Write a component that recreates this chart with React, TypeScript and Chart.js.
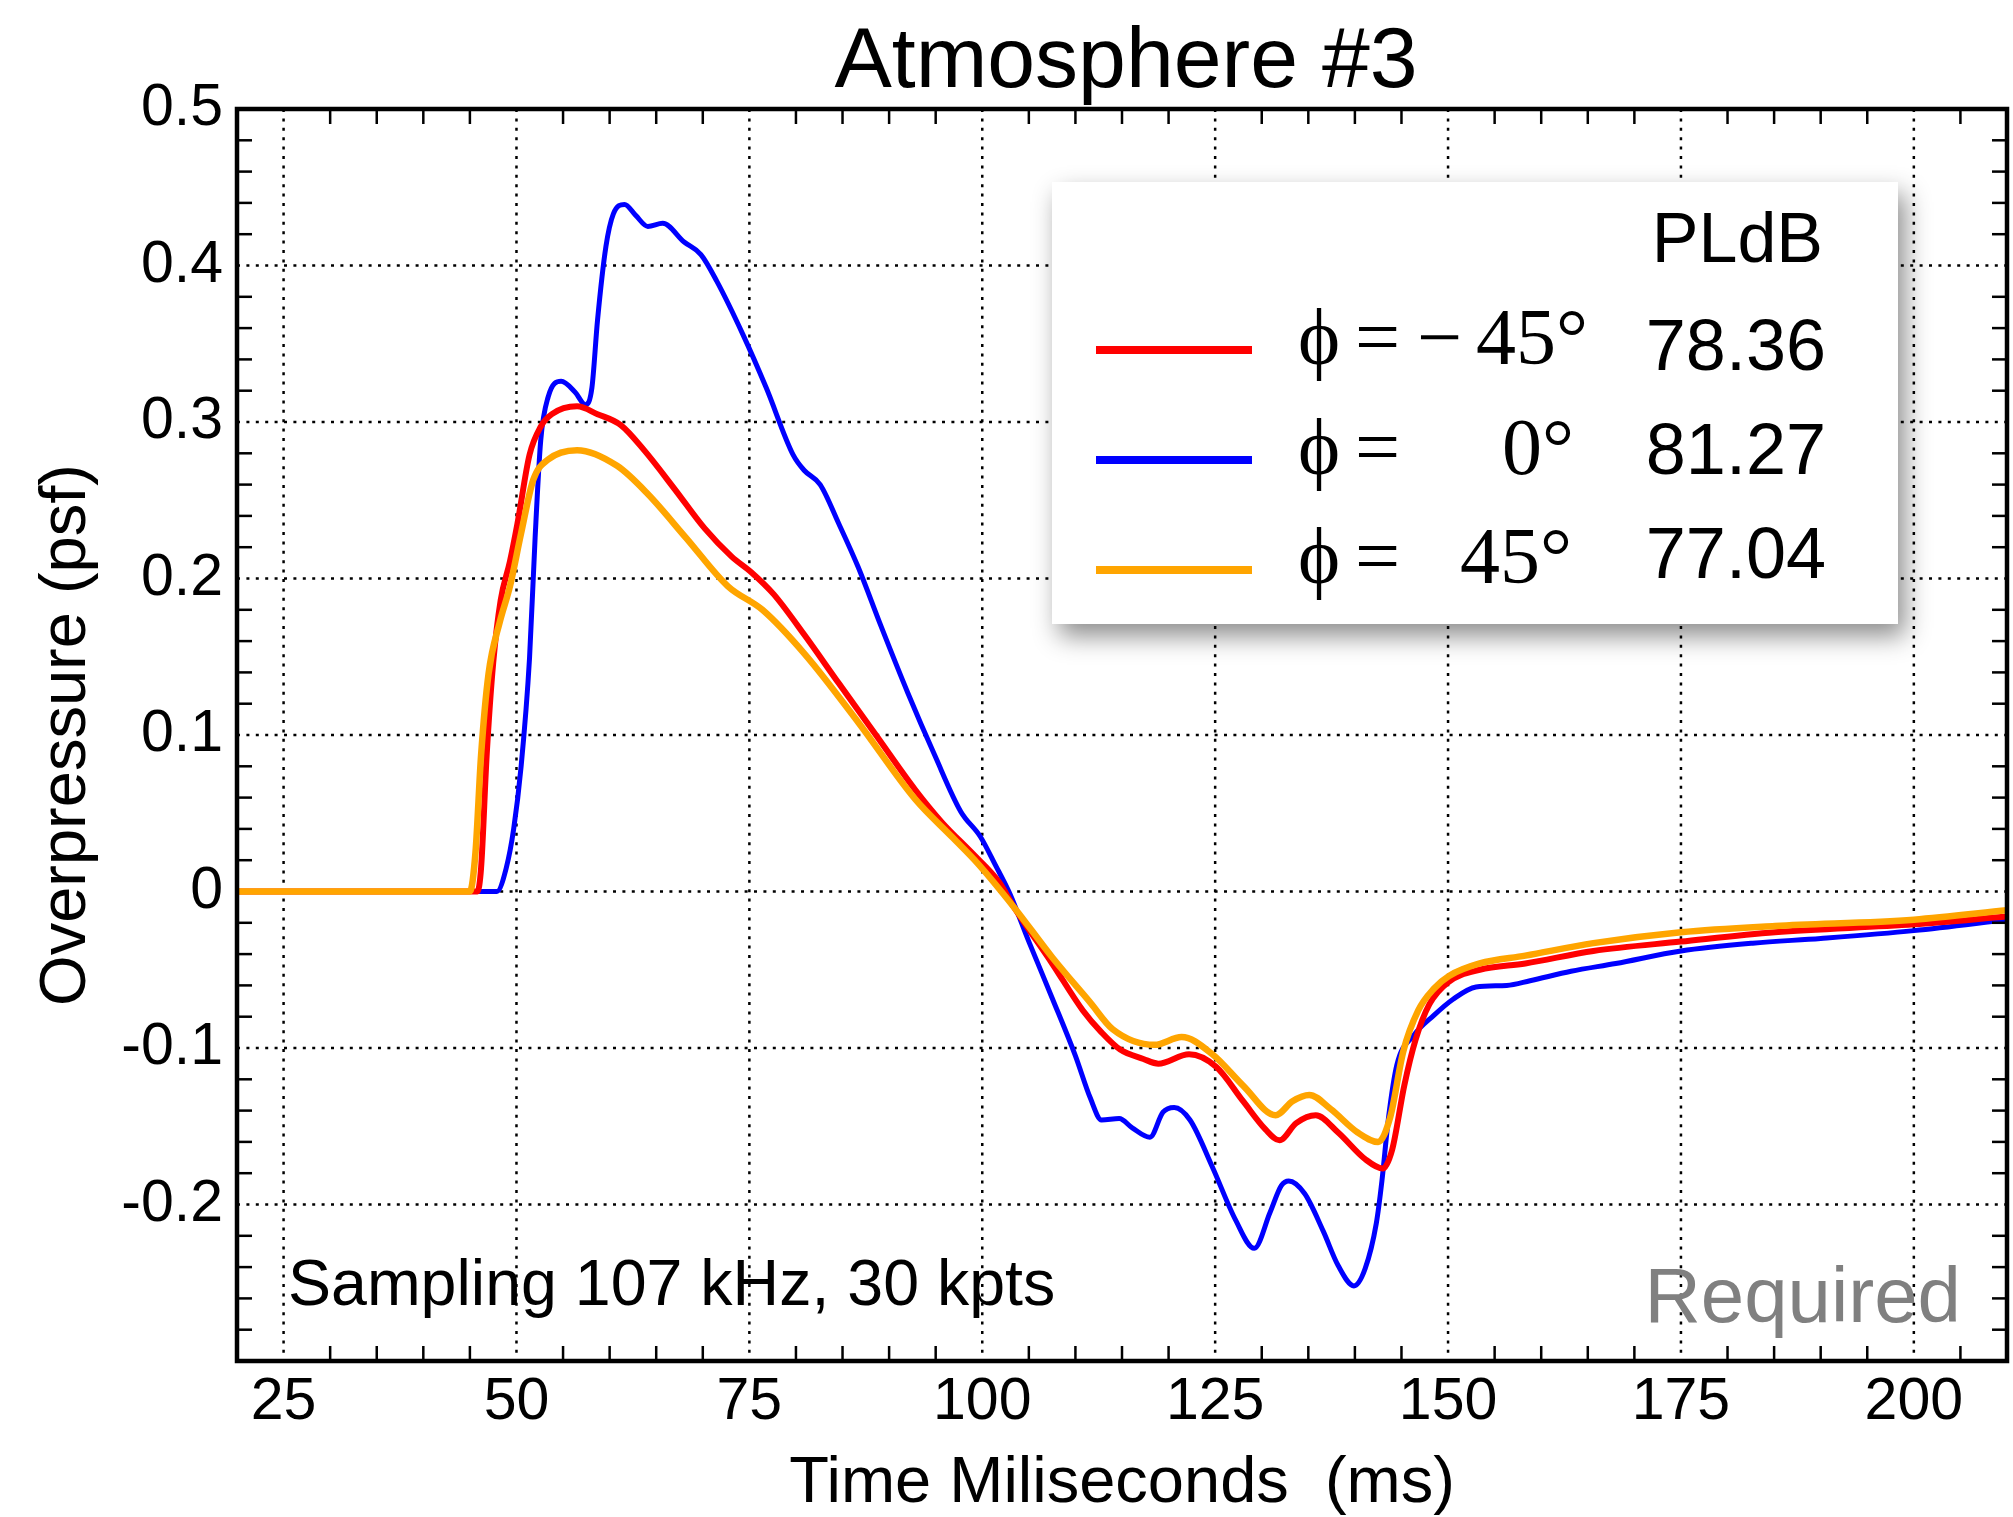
import React, { useEffect, useRef } from 'react';
import { Chart, registerables } from 'chart.js';

Chart.register(...registerables);

const W = 2013;
const H = 1517;

const TITLE = 'Atmosphere #3';
const X_TITLE = 'Time Miliseconds  (ms)';
const Y_TITLE = 'Overpressure (psf)';
const SAMPLING_NOTE = 'Sampling 107 kHz, 30 kpts';
const STATUS_NOTE = 'Required';

const X_MIN = 20;
const X_MAX = 210;
const Y_MIN = -0.3;
const Y_MAX = 0.5;
const X_TICKS = [25, 50, 75, 100, 125, 150, 175, 200];
const Y_TICKS = [-0.2, -0.1, 0, 0.1, 0.2, 0.3, 0.4, 0.5];
const Y_TICK_LABELS = ['-0.2', '-0.1', '0', '0.1', '0.2', '0.3', '0.4', '0.5'];
const X_MINOR_STEP = 5;
const Y_MINOR_STEP = 0.02;

const LEGEND_HEADER = 'PLdB';
const SERIES_NAMES = ['phi = -45', 'phi = 0', 'phi = 45'];
const SERIES_ANGLES = ['45°', '0°', '45°'];
const SERIES_SIGNS = ['−', '', ''];
const SERIES_PLDB = ['78.36', '81.27', '77.04'];
const SERIES_COLORS = ['#ff0000', '#0000ff', '#ffa500'];

// phi = -45 (red)
const RED_X = [20, 45.8, 46.2, 46.8, 47.5, 48.3, 49.3, 50.1, 51.4, 52.6, 53.8, 56.5, 58.7, 61.2, 63.7, 67.0, 70.2, 73.1, 75.2, 77.6, 80.9, 84.6, 88.7, 92.8, 95.7, 99.0, 101.8, 103.4, 107.5, 110.8, 112.8, 114.8, 117.3, 118.9, 122.2, 125.1, 128.0, 130.4, 131.9, 133.7, 135.8, 138.2, 141.1, 143.0, 144.0, 145.3, 146.5, 148.0, 150.0, 153.4, 158.3, 165.6, 175.0, 185.1, 200.0, 210.0];
const RED_Y = [0, 0, 0.015, 0.087, 0.146, 0.186, 0.211, 0.235, 0.279, 0.297, 0.305, 0.310, 0.305, 0.298, 0.282, 0.257, 0.232, 0.214, 0.204, 0.190, 0.164, 0.133, 0.099, 0.065, 0.044, 0.024, 0.006, -0.010, -0.046, -0.076, -0.090, -0.101, -0.107, -0.110, -0.104, -0.112, -0.134, -0.152, -0.159, -0.148, -0.143, -0.154, -0.171, -0.177, -0.165, -0.124, -0.095, -0.072, -0.058, -0.050, -0.046, -0.038, -0.032, -0.026, -0.021, -0.016];

// phi = 0 (blue)
const BLUE_X = [20, 47.9, 48.9, 49.7, 50.5, 51.4, 52.0, 52.6, 53.4, 54.8, 56.3, 57.4, 58.1, 58.7, 59.6, 60.4, 61.6, 62.8, 64.1, 65.7, 68.0, 69.8, 71.5, 74.3, 76.8, 79.7, 80.9, 82.6, 84.6, 86.7, 89.1, 92.0, 94.9, 97.7, 99.8, 101.4, 103.0, 105.0, 107.5, 110.0, 111.6, 112.8, 114.7, 116.1, 118.0, 119.4, 120.6, 122.3, 124.7, 127.2, 129.2, 130.9, 132.1, 132.9, 134.6, 136.6, 138.2, 139.9, 141.1, 142.3, 142.9, 143.6, 144.5, 146.3, 148.5, 150.5, 153.0, 156.3, 158.8, 163.2, 168.0, 175.0, 182.7, 190.0, 200.0, 210.0];
const BLUE_Y = [0, 0, 0.015, 0.040, 0.080, 0.149, 0.226, 0.288, 0.316, 0.326, 0.319, 0.311, 0.322, 0.365, 0.412, 0.433, 0.439, 0.432, 0.425, 0.427, 0.415, 0.407, 0.390, 0.356, 0.322, 0.279, 0.269, 0.260, 0.235, 0.207, 0.170, 0.127, 0.087, 0.051, 0.035, 0.017, -0.002, -0.032, -0.068, -0.105, -0.132, -0.146, -0.145, -0.151, -0.157, -0.141, -0.138, -0.146, -0.176, -0.210, -0.228, -0.205, -0.188, -0.185, -0.193, -0.217, -0.239, -0.252, -0.241, -0.212, -0.185, -0.145, -0.111, -0.092, -0.079, -0.069, -0.061, -0.060, -0.057, -0.051, -0.046, -0.038, -0.033, -0.030, -0.025, -0.018];

// phi = 45 (orange)
const ORANGE_X = [20, 45.0, 45.6, 46.2, 47.0, 48.2, 49.3, 50.5, 51.8, 53.4, 56.5, 60.8, 64.1, 68.2, 72.7, 76.4, 80.9, 86.7, 92.8, 96.9, 99.5, 103.4, 107.5, 111.6, 114.0, 118.5, 121.4, 124.7, 128.0, 131.5, 133.3, 135.1, 137.4, 140.3, 142.5, 143.8, 145.2, 146.8, 148.5, 150.1, 153.4, 158.3, 165.6, 175.0, 185.1, 200.0, 210.0];
const ORANGE_Y = [0, 0, 0.025, 0.087, 0.139, 0.172, 0.195, 0.229, 0.263, 0.276, 0.282, 0.272, 0.254, 0.226, 0.195, 0.180, 0.152, 0.108, 0.059, 0.034, 0.018, -0.010, -0.042, -0.071, -0.088, -0.098, -0.093, -0.104, -0.124, -0.143, -0.134, -0.130, -0.139, -0.154, -0.160, -0.144, -0.102, -0.076, -0.062, -0.054, -0.046, -0.041, -0.033, -0.026, -0.022, -0.018, -0.012];

const SANS = '"Liberation Sans", Arial, Helvetica, sans-serif';
const SERIF = '"Liberation Serif", "DejaVu Serif", "Times New Roman", serif';

const toPoints = (xs: number[], ys: number[]) => xs.map((x, i) => ({ x, y: ys[i] }));

function line(ctx: CanvasRenderingContext2D, x1: number, y1: number, x2: number, y2: number) {
  ctx.beginPath();
  ctx.moveTo(x1, y1);
  ctx.lineTo(x2, y2);
  ctx.stroke();
}

const decorPlugin = {
  id: 'decor',
  beforeDatasetsDraw(chart: any) {
    const { ctx, chartArea: a, scales } = chart;
    const xs = scales.x;
    const ys = scales.y;
    ctx.save();
    ctx.strokeStyle = '#000';
    ctx.lineWidth = 2.5;
    ctx.setLineDash([3, 6.4]);
    X_TICKS.forEach((v) => {
      const p = xs.getPixelForValue(v);
      line(ctx, p, a.top, p, a.bottom);
    });
    Y_TICKS.filter((v) => v < Y_MAX).forEach((v) => {
      const p = ys.getPixelForValue(v);
      line(ctx, a.left, p, a.right, p);
    });
    ctx.setLineDash([]);

    ctx.fillStyle = '#000';
    ctx.textBaseline = 'alphabetic';
    ctx.textAlign = 'left';
    ctx.font = `64.5px ${SANS}`;
    ctx.fillText(SAMPLING_NOTE, a.left + 51, a.bottom - 56);

    ctx.fillStyle = '#808080';
    ctx.textAlign = 'right';
    ctx.font = `78px ${SANS}`;
    ctx.fillText(STATUS_NOTE, a.right - 46, a.bottom - 39);

    ctx.fillStyle = '#000';
    ctx.textAlign = 'center';
    ctx.font = `86px ${SANS}`;
    ctx.fillText(TITLE, (a.left + a.right) / 2 + 4, a.top - 22);
    ctx.restore();
  },
  afterDatasetsDraw(chart: any) {
    const { ctx, chartArea: a, scales } = chart;
    const xs = scales.x;
    const ys = scales.y;
    ctx.save();
    ctx.strokeStyle = '#000';
    ctx.lineWidth = 2.5;
    const tick = 15;
    const nx = Math.round((X_MAX - X_MIN) / X_MINOR_STEP);
    for (let k = 1; k < nx; k++) {
      const v = X_MIN + k * X_MINOR_STEP;
      if (X_TICKS.includes(v)) continue;
      const p = xs.getPixelForValue(v);
      line(ctx, p, a.bottom, p, a.bottom - tick);
      line(ctx, p, a.top, p, a.top + tick);
    }
    const ny = Math.round((Y_MAX - Y_MIN) / Y_MINOR_STEP);
    for (let k = 1; k < ny; k++) {
      if (k % 5 === 0) continue;
      const v = Y_MIN + k * Y_MINOR_STEP;
      const p = ys.getPixelForValue(v);
      line(ctx, a.left, p, a.left + tick, p);
      line(ctx, a.right, p, a.right - tick, p);
    }
    ctx.lineWidth = 4.5;
    ctx.strokeRect(a.left, a.top, a.right - a.left, a.bottom - a.top);

    // legend box
    const L = { x: a.left + 815, y: a.top + 73, w: 846, h: 442 };
    ctx.save();
    ctx.shadowColor = 'rgba(0,0,0,0.45)';
    ctx.shadowBlur = 24;
    ctx.shadowOffsetX = 7;
    ctx.shadowOffsetY = 12;
    ctx.fillStyle = '#fff';
    ctx.fillRect(L.x, L.y, L.w, L.h);
    ctx.restore();

    ctx.fillStyle = '#000';
    ctx.textBaseline = 'alphabetic';
    ctx.textAlign = 'right';
    ctx.font = `70px ${SANS}`;
    ctx.fillText(LEGEND_HEADER, L.x + 771, L.y + 80);

    const angleLeft = [424, 450, 408];
    SERIES_NAMES.forEach((_, i) => {
      const ly = L.y + 168 + i * 110;
      ctx.strokeStyle = SERIES_COLORS[i];
      ctx.lineWidth = 8;
      line(ctx, L.x + 44, ly, L.x + 200, ly);

      const by = L.y + 182 + i * 109.5;
      ctx.fillStyle = '#000';
      ctx.textAlign = 'left';
      ctx.font = `80px ${SERIF}`;
      ctx.fillText('ϕ', L.x + 246, by);
      ctx.fillText('=', L.x + 303, by);
      if (SERIES_SIGNS[i]) ctx.fillText(SERIES_SIGNS[i], L.x + 365, by);
      ctx.fillText(SERIES_ANGLES[i], L.x + angleLeft[i], by);

      ctx.textAlign = 'right';
      ctx.font = `72px ${SANS}`;
      ctx.fillText(SERIES_PLDB[i], L.x + 774, L.y + 188 + i * 104);
    });
    ctx.restore();
  },
};

export default function App() {
  const ref = useRef<HTMLCanvasElement>(null);
  useEffect(() => {
    document.body.style.margin = '0';
    const canvas = ref.current;
    if (!canvas) return;
    const chart = new Chart(canvas, {
      type: 'line',
      data: {
        datasets: [
          { label: SERIES_NAMES[2], data: toPoints(ORANGE_X, ORANGE_Y), borderColor: SERIES_COLORS[2], borderWidth: 6.5 },
          { label: SERIES_NAMES[0], data: toPoints(RED_X, RED_Y), borderColor: SERIES_COLORS[0], borderWidth: 6 },
          { label: SERIES_NAMES[1], data: toPoints(BLUE_X, BLUE_Y), borderColor: SERIES_COLORS[1], borderWidth: 5 },
        ].map((d) => ({ ...d, pointRadius: 0, fill: false, cubicInterpolationMode: 'monotone' as const, borderJoinStyle: 'round' as const, borderCapStyle: 'round' as const })),
      },
      options: {
        responsive: false,
        animation: false,
        devicePixelRatio: 1,
        layout: { padding: { top: 109, right: 6, left: 0, bottom: 0 } },
        plugins: {
          legend: { display: false },
          tooltip: { enabled: false },
          title: { display: false },
        },
        scales: {
          x: {
            type: 'linear',
            min: X_MIN,
            max: X_MAX,
            afterBuildTicks: (s: any) => {
              s.ticks = X_TICKS.map((v) => ({ value: v }));
            },
            afterFit: (s: any) => {
              s.height = 156;
            },
            grid: { display: false, drawTicks: false },
            border: { display: false },
            ticks: {
              autoSkip: false,
              maxRotation: 0,
              padding: 12,
              color: '#000',
              font: { family: SANS, size: 59, lineHeight: 1 },
              callback: (v: any) => String(v),
            },
            title: {
              display: true,
              text: X_TITLE,
              color: '#000',
              font: { family: SANS, size: 65, lineHeight: 1 },
              padding: { top: 0, bottom: 0 },
            },
          },
          y: {
            type: 'linear',
            min: Y_MIN,
            max: Y_MAX,
            afterBuildTicks: (s: any) => {
              s.ticks = Y_TICKS.map((v) => ({ value: v }));
            },
            afterFit: (s: any) => {
              s.width = 237;
            },
            grid: { display: false, drawTicks: false },
            border: { display: false },
            ticks: {
              autoSkip: false,
              padding: 14,
              color: '#000',
              font: { family: SANS, size: 59, lineHeight: 1 },
              callback: (v: any) => {
                const i = Y_TICKS.findIndex((t) => Math.abs(t - v) < 1e-9);
                return i >= 0 ? Y_TICK_LABELS[i] : '';
              },
            },
            title: {
              display: true,
              text: Y_TITLE,
              color: '#000',
              font: { family: SANS, size: 65, lineHeight: 1 },
              padding: { top: 35, bottom: 0 },
            },
          },
        },
      },
      plugins: [decorPlugin],
    });
    return () => chart.destroy();
  }, []);
  return (
    <div style={{ width: W, height: H }}>
      <canvas ref={ref} width={W} height={H} style={{ display: 'block', width: W, height: H }} />
    </div>
  );
}
